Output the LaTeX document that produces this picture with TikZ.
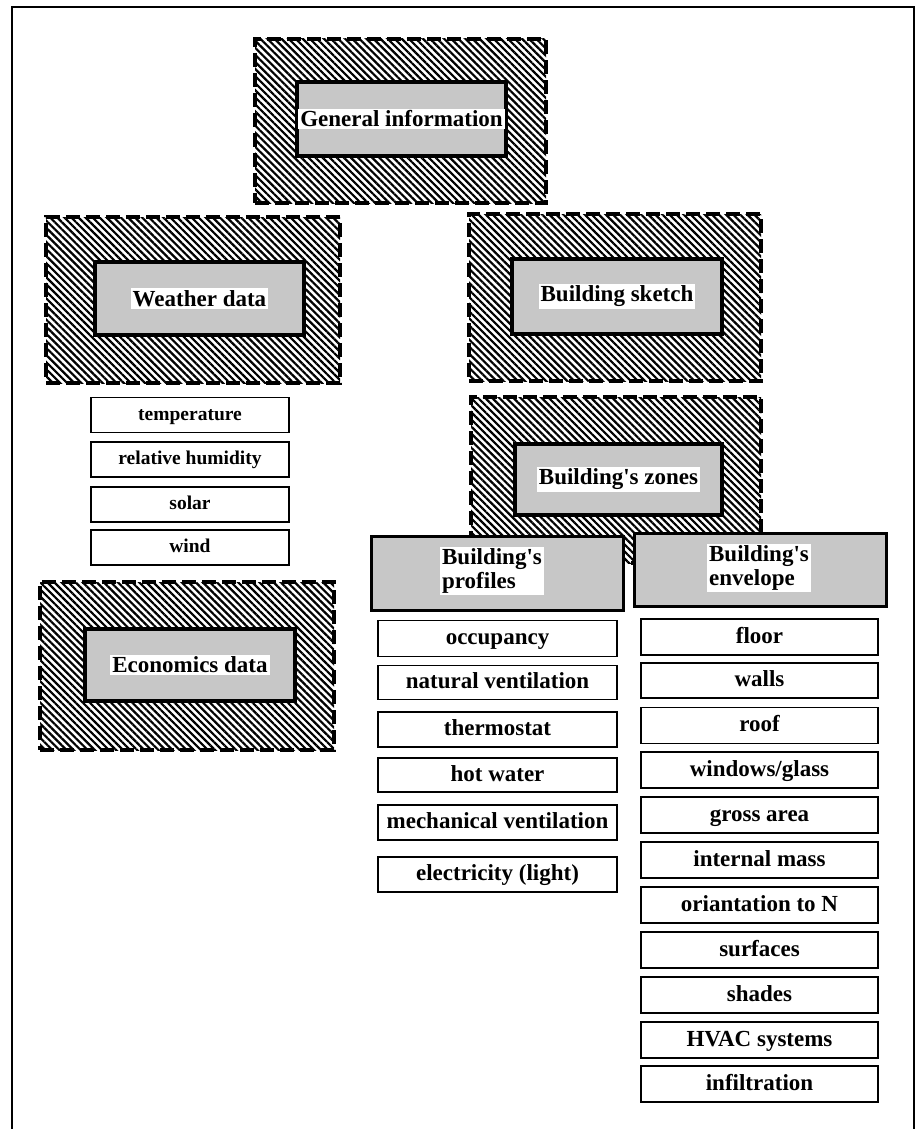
\documentclass[tikz,border=0pt]{standalone}
\usepackage{fontspec}
\setmainfont{Liberation Serif}
\usetikzlibrary{patterns.meta}
\newcommand\apos{\XeTeXglyph\XeTeXcharglyph"0027\relax}
\begin{document}
\begin{tikzpicture}[x=1pt,y=-1pt,
  outerbox/.style={draw=black, line width=4.5pt, dash pattern=on 14pt off 6pt,
    pattern={Lines[angle=-45,distance=5pt,line width=2.2pt]}, inner sep=0pt},
  innerbox/.style={draw=black, line width=4pt, fill=black!22, inner sep=0pt},
  headbox/.style={draw=black, line width=3pt, fill=black!22, inner sep=0pt},
  lbl/.style={fill=white, inner sep=2pt, font=\bfseries\fontsize{23}{25}\selectfont},
  lbltwo/.style={fill=white, inner sep=2pt, align=left, font=\bfseries\fontsize{23}{24}\selectfont},
  item/.style={draw=black, line width=1.8pt, fill=white, inner sep=0pt,
    text height=15pt, text depth=3pt, font=\bfseries\fontsize{23}{25}\selectfont},
  witem/.style={item, text height=13pt, text depth=3pt, font=\bfseries\fontsize{19.5}{21}\selectfont},
]
\useasboundingbox (0,0) rectangle (917,1129);
% page frame
\draw[line width=2pt] (12,1140) -- (12,7) -- (914,7) -- (914,1140);

% General information
\node[outerbox, minimum width=291pt, minimum height=164pt] (gio) at (400.5,121) {};
\node[innerbox, minimum width=209pt, minimum height=74pt] (gi) at (401.5,119) {};
\node[lbl] (gil) at (gi) {General information};

% Weather data
\node[outerbox, minimum width=294pt, minimum height=166pt] (wdo) at (193,300) {};
\node[innerbox, minimum width=209pt, minimum height=73pt] (wd) at (199.5,298.5) {};
\node[lbl] (wdl) at (wd) {Weather data};

% Building sketch
\node[outerbox, minimum width=292pt, minimum height=167pt] (bso) at (615,297.5) {};
\node[innerbox, minimum width=210pt, minimum height=75pt] (bs) at (617,296.5) {};
\node[lbl] (bsl) at (bs) {Building sketch};

% Building's zones
\node[outerbox, minimum width=290pt, minimum height=166pt] (bzo) at (616,480) {};
\node[innerbox, minimum width=207pt, minimum height=71pt] (bz) at (618.5,479.5) {};
\node[lbl] (bzl) at (bz) {Building\apos s zones};

% Economics data
\node[outerbox, minimum width=294pt, minimum height=168pt] (edo) at (187,666) {};
\node[innerbox, minimum width=210pt, minimum height=72pt] (ed) at (190,665) {};
\node[lbl] (edl) at (ed) {Economics data};

% Profiles / envelope headers
\node[headbox, minimum width=252pt, minimum height=74pt] (bp) at (497.5,573.5) {};
\node[lbltwo] (bpl) at (492,571) {Building\apos s\\profiles};
\node[headbox, minimum width=252pt, minimum height=73pt] (be) at (760.5,570) {};
\node[lbltwo] (bel) at (759,568) {Building\apos s\\envelope};

% Weather items
\node[witem, minimum width=198pt, minimum height=35pt] (w1) at (190,415) {temperature};
\node[witem, minimum width=198pt, minimum height=35pt] (w2) at (190,459.5) {relative humidity};
\node[witem, minimum width=198pt, minimum height=35pt] (w3) at (190,504.5) {solar};
\node[witem, minimum width=198pt, minimum height=35pt] (w4) at (190,547.5) {wind};

% Profile items
\node[item, minimum width=239pt, minimum height=36pt] (p1) at (497.5,638.5) {occupancy};
\node[item, minimum width=239pt, minimum height=34pt] (p2) at (497.5,682.5) {natural ventilation};
\node[item, minimum width=239pt, minimum height=35pt] (p3) at (497.5,729.5) {thermostat};
\node[item, minimum width=239pt, minimum height=34pt] (p4) at (497.5,775) {hot water};
\node[item, minimum width=239pt, minimum height=35pt] (p5) at (497.5,822.5) {mechanical ventilation};
\node[item, minimum width=239pt, minimum height=35pt] (p6) at (497.5,874.5) {electricity (light)};

% Envelope items
\node[item, minimum width=237pt, minimum height=36pt] (e1) at (759.5,637) {floor};
\node[item, minimum width=237pt, minimum height=35pt] (e2) at (759.5,680.5) {walls};
\node[item, minimum width=237pt, minimum height=36pt] (e3) at (759.5,725.5) {roof};
\node[item, minimum width=237pt, minimum height=36pt] (e4) at (759.5,770) {windows/glass};
\node[item, minimum width=237pt, minimum height=36pt] (e5) at (759.5,815) {gross area};
\node[item, minimum width=237pt, minimum height=36pt] (e6) at (759.5,860) {internal mass};
\node[item, minimum width=237pt, minimum height=36pt] (e7) at (759.5,905) {oriantation to N};
\node[item, minimum width=237pt, minimum height=36pt] (e8) at (759.5,950) {surfaces};
\node[item, minimum width=237pt, minimum height=36pt] (e9) at (759.5,995) {shades};
\node[item, minimum width=237pt, minimum height=36pt] (e10) at (759.5,1040) {HVAC systems};
\node[item, minimum width=237pt, minimum height=36pt] (e11) at (759.5,1084) {infiltration};
\end{tikzpicture}
\end{document}
